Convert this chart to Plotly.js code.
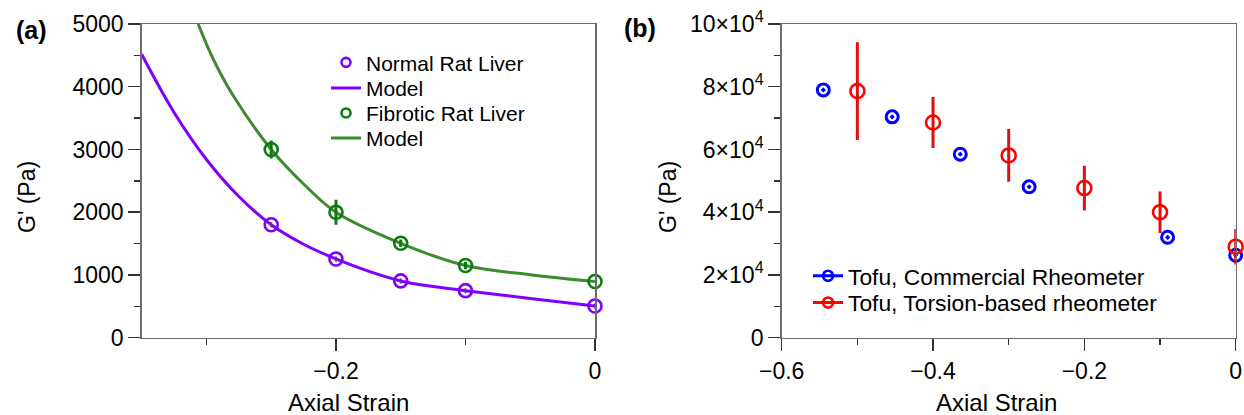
<!DOCTYPE html>
<html>
<head>
<meta charset="utf-8">
<script src="https://cdn.plot.ly/plotly-3.0.1.min.js"></script>
<style>html,body{margin:0;padding:0;background:#fff;}#chart{width:1244px;height:415px;}</style>
</head>
<body>
<div id="chart"></div>
<script>
// ---------- Panel (a) data ----------
const normalStrain = [-0.25, -0.2, -0.15, -0.1, 0];
const normalG = [1800, 1255, 905, 750, 505];
const normalErr = [40, 40, 40, 40, 40];
const fibroticStrain = [-0.25, -0.2, -0.15, -0.1, 0];
const fibroticG = [3000, 2000, 1505, 1150, 895];
const fibroticErr = [145, 200, 60, 60, 0];
const normalModelStrain = [-0.35, -0.325, -0.3, -0.275, -0.25, -0.225, -0.2, -0.175, -0.15, -0.125, -0.1, -0.05, 0];
const normalModelG = [4517, 3590, 2840, 2250, 1800, 1490, 1255, 1060, 905, 815, 750, 625, 505];
const fibroticModelStrain = [-0.3064, -0.295, -0.28, -0.25, -0.225, -0.2, -0.15, -0.1, -0.05, 0];
const fibroticModelG = [5000, 4450, 3880, 3000, 2450, 2000, 1505, 1150, 1005, 895];

// ---------- Panel (b) data ----------
const commercialStrain = [-0.545, -0.454, -0.364, -0.273, -0.09, 0];
const commercialG = [79000, 70400, 58500, 48100, 32000, 26300];
const torsionStrain = [-0.5, -0.4, -0.3, -0.2, -0.1, 0];
const torsionG = [78600, 68600, 58100, 47700, 40000, 29000];
const torsionErr = [15600, 8150, 8400, 7150, 6600, 5650];
const bTickVals = [0, 20000, 40000, 60000, 80000, 100000];
const bTickText = ['0', '2×10<sup>4</sup>', '4×10<sup>4</sup>', '6×10<sup>4</sup>', '8×10<sup>4</sup>', '10×10<sup>4</sup>'];

// ---------- styling ----------
const FONT = 'Liberation Sans, Arial, Helvetica, sans-serif';
const W = 1244, H = 415;
const PURPLE = '#8000ff', GREEN_LINE = '#3d8b2e', GREEN_MK = '#0d7a12';
const BLUE = '#0000ff', RED = '#ff0000', RED_ERR = '#dd1111';
const px = v => v / W;
const py = v => 1 - v / H;

const traces = [
  // panel a model curves
  {x: normalModelStrain, y: normalModelG, mode: 'lines', line: {color: PURPLE, width: 3, shape: 'spline', smoothing: 1}, showlegend: false, xaxis: 'x', yaxis: 'y', hoverinfo: 'skip'},
  {x: fibroticModelStrain, y: fibroticModelG, mode: 'lines', line: {color: GREEN_LINE, width: 3, shape: 'spline', smoothing: 1}, showlegend: false, xaxis: 'x', yaxis: 'y', hoverinfo: 'skip'},
  // panel a data
  {x: normalStrain, y: normalG, mode: 'markers', marker: {symbol: 'circle-open', size: 13, color: PURPLE, line: {width: 2.6, color: PURPLE}},
   error_y: {type: 'data', array: normalErr, visible: true, color: '#6a2aa0', thickness: 2, width: 0}, cliponaxis: false, showlegend: false, xaxis: 'x', yaxis: 'y'},
  {x: fibroticStrain, y: fibroticG, mode: 'markers', marker: {symbol: 'circle-open', size: 13, color: GREEN_MK, line: {width: 2.6, color: GREEN_MK}},
   error_y: {type: 'data', array: fibroticErr, visible: true, color: GREEN_MK, thickness: 3, width: 0}, cliponaxis: false, showlegend: false, xaxis: 'x', yaxis: 'y'},
  // panel a legend entries
  {x: [null], y: [null], name: 'Normal Rat Liver', mode: 'markers', marker: {symbol: 'circle-open', size: 9, color: PURPLE, line: {width: 2.6, color: PURPLE}}, legend: 'legend', xaxis: 'x', yaxis: 'y'},
  {x: [null], y: [null], name: 'Model', mode: 'lines', line: {color: PURPLE, width: 3}, legend: 'legend2', xaxis: 'x', yaxis: 'y'},
  {x: [null], y: [null], name: 'Fibrotic Rat Liver', mode: 'markers', marker: {symbol: 'circle-open', size: 9, color: GREEN_MK, line: {width: 2.6, color: GREEN_MK}}, legend: 'legend3', xaxis: 'x', yaxis: 'y'},
  {x: [null], y: [null], name: 'Model', mode: 'lines', line: {color: GREEN_LINE, width: 3}, legend: 'legend4', xaxis: 'x', yaxis: 'y'},
  // panel b data
  {x: commercialStrain, y: commercialG, mode: 'markers', marker: {symbol: 'circle-open-dot', size: 12, color: BLUE, line: {width: 3, color: BLUE}}, cliponaxis: false, showlegend: false, xaxis: 'x2', yaxis: 'y2'},
  {x: torsionStrain, y: torsionG, mode: 'markers', marker: {symbol: 'circle-open', size: 14, color: RED, line: {width: 2.6, color: RED}},
   error_y: {type: 'data', array: torsionErr, visible: true, color: RED_ERR, thickness: 3, width: 0}, cliponaxis: false, showlegend: false, xaxis: 'x2', yaxis: 'y2'},
  // panel b legend entries
  {x: [null], y: [null], name: 'Tofu, Commercial Rheometer', mode: 'lines+markers', line: {color: BLUE, width: 3}, marker: {symbol: 'circle-open', size: 10, color: BLUE, line: {width: 2.6, color: BLUE}}, legend: 'legend5', xaxis: 'x2', yaxis: 'y2'},
  {x: [null], y: [null], name: 'Tofu, Torsion-based rheometer', mode: 'lines+markers', line: {color: RED, width: 3}, marker: {symbol: 'circle-open', size: 10, color: RED, line: {width: 2.6, color: RED}}, legend: 'legend6', xaxis: 'x2', yaxis: 'y2'}
];

const axisCommon = {
  showline: true, linecolor: '#6b6b6b', linewidth: 1.5, mirror: true,
  ticks: 'outside', ticklen: 12, tickwidth: 1.5, tickcolor: '#333',
  showgrid: false, zeroline: false, fixedrange: true,
  tickfont: {family: FONT, size: 23, color: '#000'}
};
const minorCommon = {ticks: 'outside', ticklen: 6, tickwidth: 1.5, tickcolor: '#333', showgrid: false};

function leg(xPix, yPix, size) {
  return {x: px(xPix), y: py(yPix), xanchor: 'left', yanchor: 'middle', bgcolor: 'rgba(0,0,0,0)', borderwidth: 0,
          font: {family: FONT, size: size, color: '#000'}, itemwidth: 30, tracegroupgap: 0};
}

const layout = {
  width: W, height: H,
  margin: {l: 0, r: 0, t: 0, b: 0},
  paper_bgcolor: '#fff', plot_bgcolor: '#fff',
  font: {family: FONT, color: '#000'},
  xaxis: Object.assign({}, axisCommon, {domain: [px(141.7), px(595)], range: [-0.35, 0], tick0: 0, dtick: 0.2,
    minor: Object.assign({}, minorCommon, {tick0: 0, dtick: 0.1}), anchor: 'y'}),
  yaxis: Object.assign({}, axisCommon, {domain: [py(337.7), py(24)], range: [0, 5000], tick0: 0, dtick: 1000,
    minor: Object.assign({}, minorCommon, {tick0: 0, dtick: 500}), anchor: 'x'}),
  xaxis2: Object.assign({}, axisCommon, {domain: [px(781.7), px(1235.7)], range: [-0.6, 0], tick0: 0, dtick: 0.2,
    minor: Object.assign({}, minorCommon, {tick0: 0, dtick: 0.1}), anchor: 'y2'}),
  yaxis2: Object.assign({}, axisCommon, {domain: [py(337.7), py(24)], range: [0, 100000], tickmode: 'array',
    tickvals: bTickVals, ticktext: bTickText,
    minor: Object.assign({}, minorCommon, {tickmode: 'linear', tick0: 0, dtick: 10000}), anchor: 'x2'}),
  legend: leg(326, 62.7, 21),
  legend2: leg(326, 88.3, 21),
  legend3: leg(326, 113.3, 21),
  legend4: leg(326, 138.3, 21),
  legend5: leg(808, 276, 22.8),
  legend6: leg(808, 302.7, 22.8),
  annotations: [
    {text: '<b>(a)</b>', x: px(31), y: py(30), xref: 'paper', yref: 'paper', showarrow: false, xanchor: 'center', yanchor: 'middle', font: {family: FONT, size: 25, color: '#000'}},
    {text: '<b>(b)</b>', x: px(640), y: py(28), xref: 'paper', yref: 'paper', showarrow: false, xanchor: 'center', yanchor: 'middle', font: {family: FONT, size: 25, color: '#000'}},
    {text: 'Axial Strain', x: px(349), y: py(402), xref: 'paper', yref: 'paper', showarrow: false, xanchor: 'center', yanchor: 'middle', font: {family: FONT, size: 24, color: '#000'}},
    {text: 'Axial Strain', x: px(996), y: py(402), xref: 'paper', yref: 'paper', showarrow: false, xanchor: 'center', yanchor: 'middle', font: {family: FONT, size: 24, color: '#000'}},
    {text: "G' (Pa)", x: px(27), y: py(197), xref: 'paper', yref: 'paper', showarrow: false, textangle: -90, xanchor: 'center', yanchor: 'middle', font: {family: FONT, size: 23, color: '#000'}},
    {text: "G' (Pa)", x: px(668), y: py(197), xref: 'paper', yref: 'paper', showarrow: false, textangle: -90, xanchor: 'center', yanchor: 'middle', font: {family: FONT, size: 23, color: '#000'}}
  ]
};

Plotly.newPlot('chart', traces, layout, {displayModeBar: false, staticPlot: true});
</script>
</body>
</html>
